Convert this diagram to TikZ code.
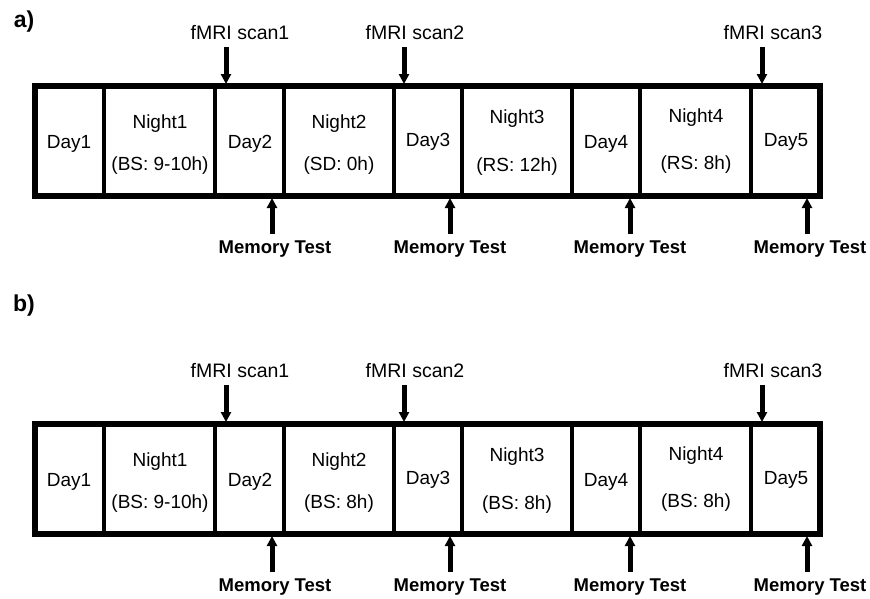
\documentclass[tikz,border=0pt]{standalone}
\usepackage{fontspec}
\setmainfont{Liberation Sans}
\usetikzlibrary{arrows.meta}
\tikzset{
  frame/.style={line width=5.5pt},
  divider/.style={line width=4.5pt},
  cell/.style={font=\fontsize{19}{22}\selectfont, anchor=base, inner sep=0pt},
  scanlbl/.style={font=\fontsize{19.5}{22}\selectfont, anchor=base, inner sep=0pt},
  memlbl/.style={font=\bfseries\fontsize{18.5}{22}\selectfont, anchor=base, inner sep=0pt},
  panellbl/.style={font=\bfseries\fontsize{23}{24}\selectfont, inner sep=0pt},
  marker/.style={line width=5pt, -{Triangle[length=10pt,width=10pt]}},
}
% #1 prefix, #2 vertical offset, #3 panel letter, #4 night2, #5 night3, #6 night4, #7 panel label y
\newcommand\drawpanel[7]{%
  \node[panellbl] (#1lab) at (24,#7) {#3)};
  \draw[frame] (35,{#2+86}) rectangle (820,{#2+196});
  \foreach \xx in {104,215,284,394,462,572,640,751}
    \draw[divider] (\xx,{#2+86}) -- (\xx,{#2+196});
  % cell texts
  \node[cell] (#1d1) at (69,{#2+148}) {Day1};
  \node[cell] (#1n1) at (160,{#2+128}) {Night1};
  \node[cell] (#1n1s) at (160,{#2+170}) {(BS: 9-10h)};
  \node[cell] (#1d2) at (250,{#2+148}) {Day2};
  \node[cell] (#1n2) at (339,{#2+128}) {Night2};
  \node[cell] (#1n2s) at (339,{#2+170}) {(#4)};
  \node[cell] (#1d3) at (428,{#2+146}) {Day3};
  \node[cell] (#1n3) at (517,{#2+123}) {Night3};
  \node[cell] (#1n3s) at (517,{#2+171}) {(#5)};
  \node[cell] (#1d4) at (606,{#2+148}) {Day4};
  \node[cell] (#1n4) at (696,{#2+122}) {Night4};
  \node[cell] (#1n4s) at (696,{#2+169}) {(#6)};
  \node[cell] (#1d5) at (786,{#2+146}) {Day5};
  % fMRI scans
  \node[scanlbl] (#1s1) at (240,{#2+39}) {fMRI scan1};
  \node[scanlbl] (#1s2) at (415,{#2+39}) {fMRI scan2};
  \node[scanlbl] (#1s3) at (773,{#2+39}) {fMRI scan3};
  \coordinate (#1s1a) at (226,{#2+47});
  \coordinate (#1s1b) at (226,{#2+84});
  \coordinate (#1s2a) at (404,{#2+47});
  \coordinate (#1s2b) at (404,{#2+84});
  \coordinate (#1s3a) at (762,{#2+47});
  \coordinate (#1s3b) at (762,{#2+84});
  \draw[marker] (#1s1a) -- (#1s1b);
  \draw[marker] (#1s2a) -- (#1s2b);
  \draw[marker] (#1s3a) -- (#1s3b);
  % memory tests
  \node[memlbl] (#1m1) at (275,{#2+253}) {Memory Test};
  \node[memlbl] (#1m2) at (450,{#2+253}) {Memory Test};
  \node[memlbl] (#1m3) at (630,{#2+253}) {Memory Test};
  \node[memlbl] (#1m4) at (810,{#2+253}) {Memory Test};
  \coordinate (#1m1a) at (272,{#2+234});
  \coordinate (#1m1b) at (272,{#2+198});
  \coordinate (#1m2a) at (450,{#2+234});
  \coordinate (#1m2b) at (450,{#2+198});
  \coordinate (#1m3a) at (630,{#2+234});
  \coordinate (#1m3b) at (630,{#2+198});
  \coordinate (#1m4a) at (807,{#2+234});
  \coordinate (#1m4b) at (807,{#2+198});
  \draw[marker] (#1m1a) -- (#1m1b);
  \draw[marker] (#1m2a) -- (#1m2b);
  \draw[marker] (#1m3a) -- (#1m3b);
  \draw[marker] (#1m4a) -- (#1m4b);
}
\begin{document}
\begin{tikzpicture}[x=1pt,y=-1pt]
  \useasboundingbox[fill=white] (0,0) rectangle (870,598);
  \drawpanel{a}{0}{a}{SD: 0h}{RS: 12h}{RS: 8h}{22}
  \drawpanel{b}{338}{b}{BS: 8h}{BS: 8h}{BS: 8h}{306}
\end{tikzpicture}
\end{document}
